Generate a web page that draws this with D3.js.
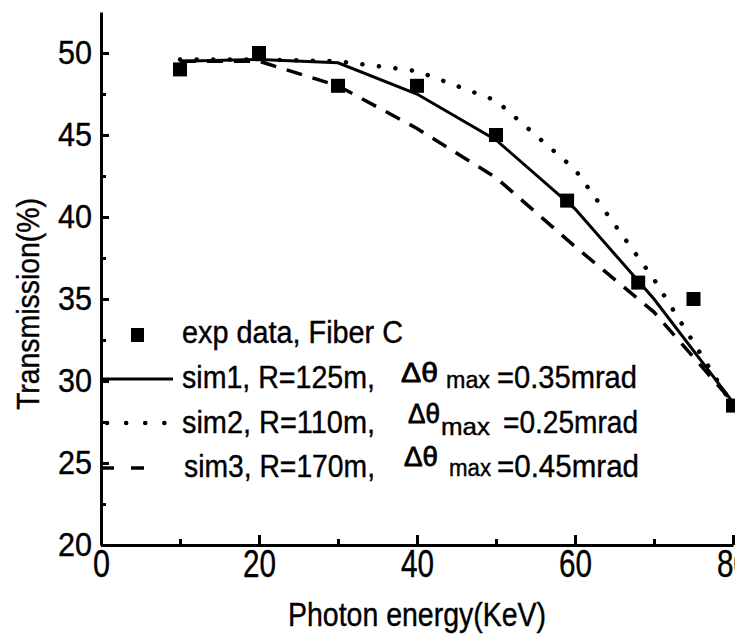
<!DOCTYPE html>
<html>
<head>
<meta charset="utf-8">
<script src="https://cdn.jsdelivr.net/npm/d3@7"></script>
<style>
    body { margin: 0; background: #fff; }
    svg { display: block; }
    .narrow { font-family: "Liberation Sans", Arial, sans-serif; fill: #000; stroke: #000; stroke-width: 0.4px; }
    .axis path, .axis line { stroke: #000; }
</style>
</head>
<body>
<div id="chart"></div>
<script>
"use strict";

// Experimental points (exp data, Fiber C).
const expEnergy = [10, 20, 30, 40, 50, 59, 68, 75, 80];
const expTrans = [49, 50, 48, 48, 45, 41, 36, 35, 28.5];

// Simulated curves, all sampled on the same energies.
const simEnergy = [10, 20, 30, 40, 50, 60, 70, 80];
const sim1Trans = [49.5, 49.6, 49.4, 47.5, 44.7, 40.5, 35.0, 28.7];
const sim2Trans = [49.6, 49.6, 49.5, 48.9, 47.1, 42.9, 36.2, 28.5];
const sim3Trans = [49.5, 49.5, 48.0, 45.4, 42.4, 38.2, 34.2, 28.7];

// Axis ticks.
const xTicks = [0, 20, 40, 60, 80];
const xMinorTicks = [10, 30, 50, 70];
const yTicks = [20, 25, 30, 35, 40, 45, 50];
const yMinorTicks = [22.5, 27.5, 32.5, 37.5, 42.5, 47.5];

// Legend text.
const legendNames = ["exp data, Fiber C", "sim1, R=125m,", "sim2, R=110m,", "sim3, R=170m,"];
const legendValues = ["", "=0.35mrad", "=0.25mrad", "=0.45mrad"];

const width = 735, height = 639;

// The original lettering is a condensed face, so squeeze text to a measured width.
function squeeze(sel, len) {
    sel.attr("textLength", len).attr("lengthAdjust", "spacingAndGlyphs");
}

let svg = d3.select("#chart").append("svg")
    .attr("width", width)
    .attr("height", height);

let x = d3.scaleLinear().domain([0, 80]).range([101, 733]);
let y = d3.scaleLinear().domain([20, 52.5]).range([545, 12]);

// Simulation lines first so the squares sit on top.
let line = d3.line()
    .x(function(d) { return x(d[0]); })
    .y(function(d) { return y(d[1]); });

let sims = [
    {vals: sim2Trans, dash: "0.1 16.5", width: 4.5, cap: "round"},
    {vals: sim3Trans, dash: "16 11", width: 3.5, cap: "butt"},
    {vals: sim1Trans, dash: null, width: 3, cap: "butt"}
];

sims.forEach(function(s) {
    svg.append("path")
        .datum(d3.zip(simEnergy, s.vals))
        .attr("fill", "none")
        .attr("stroke", "#000")
        .attr("stroke-width", s.width)
        .attr("stroke-linecap", s.cap)
        .attr("stroke-dasharray", s.dash)
        .attr("d", line);
});

// Experimental squares.
const sq = 14;
svg.append("g").selectAll("rect")
    .data(d3.zip(expEnergy, expTrans))
    .enter().append("rect")
    .attr("x", function(d) { return x(d[0]) - sq / 2; })
    .attr("y", function(d) { return y(d[1]) - sq / 2; })
    .attr("width", sq)
    .attr("height", sq)
    .attr("fill", "#000");

// Y axis: major ticks with labels, minor ticks without, all pointing inward.
let yAxis = svg.append("g")
    .attr("class", "axis")
    .attr("transform", "translate(" + x(0) + ",0)")
    .call(d3.axisLeft(y).tickValues(yTicks).tickSizeInner(-8).tickSizeOuter(0).tickPadding(9));
svg.append("g")
    .attr("class", "axis")
    .attr("transform", "translate(" + x(0) + ",0)")
    .call(d3.axisLeft(y).tickValues(yMinorTicks).tickSizeInner(-5).tickSizeOuter(0).tickFormat(""))
    .select(".domain").remove();

// X axis, same idea.
let xAxis = svg.append("g")
    .attr("class", "axis")
    .attr("transform", "translate(0," + y(20) + ")")
    .call(d3.axisBottom(x).tickValues(xTicks).tickSizeInner(-10).tickSizeOuter(0).tickPadding(5));
svg.append("g")
    .attr("class", "axis")
    .attr("transform", "translate(0," + y(20) + ")")
    .call(d3.axisBottom(x).tickValues(xMinorTicks).tickSizeInner(-6).tickSizeOuter(0).tickFormat(""))
    .select(".domain").remove();

svg.selectAll(".axis .domain").attr("stroke-width", 3);
svg.selectAll(".axis .tick line").attr("stroke-width", 3);

yAxis.selectAll("text")
    .attr("class", "narrow")
    .style("font-size", "33px")
    .call(squeeze, 34);
xAxis.selectAll("text")
    .attr("class", "narrow")
    .style("font-size", "38px")
    .each(function(d) { if (d > 0) squeeze(d3.select(this), 33); else squeeze(d3.select(this), 17); });

// Axis titles.
svg.append("text")
    .attr("class", "narrow")
    .attr("x", 417)
    .attr("y", 626)
    .style("text-anchor", "middle")
    .style("font-size", "33px")
    .text("Photon energy(KeV)")
    .call(squeeze, 258);

svg.append("text")
    .attr("class", "narrow")
    .attr("transform", "translate(39,304) rotate(-90)")
    .style("text-anchor", "middle")
    .style("font-size", "32px")
    .text("Transmission(%)")
    .call(squeeze, 212);

// Legend.
const rowY = [335, 379, 423, 468];
const textBase = [343, 388, 433, 477];

svg.append("rect")
    .attr("x", 131).attr("y", rowY[0] - 7)
    .attr("width", 13).attr("height", 14)
    .attr("fill", "#000");

svg.append("line")
    .attr("x1", 101).attr("x2", 173)
    .attr("y1", rowY[1]).attr("y2", rowY[1])
    .attr("stroke", "#000").attr("stroke-width", 3);

svg.append("line")
    .attr("x1", 107).attr("x2", 168)
    .attr("y1", rowY[2]).attr("y2", rowY[2])
    .attr("stroke", "#000").attr("stroke-width", 4.5)
    .attr("stroke-linecap", "round")
    .attr("stroke-dasharray", "0.1 19");

svg.append("line")
    .attr("x1", 101).attr("x2", 147)
    .attr("y1", rowY[3]).attr("y2", rowY[3])
    .attr("stroke", "#000").attr("stroke-width", 3.5)
    .attr("stroke-dasharray", "13 17");

// Names and the delta-theta parts, placed one piece at a time.
const nameX = [182, 182, 182, 184];
const nameW = [221, 193, 193, 191];
const thetaX = [0, 401, 408, 404];
const thetaW = [0, 37, 32, 34];
const thetaBase = [0, 382, 423, 466];
const maxX = [0, 446, 441, 449];
const maxW = [0, 44, 49, 42];
const maxBase = [0, 388, 435, 476];
const valX = [0, 497, 503, 497];
const valW = [0, 140, 135, 142];

for (let i = 0; i < legendNames.length; i++) {
    let g = svg.append("g").attr("class", "narrow");
    g.append("text")
        .attr("x", nameX[i]).attr("y", textBase[i])
        .style("font-size", "31px")
        .text(legendNames[i])
        .call(squeeze, nameW[i]);
    if (i == 0) continue;
    g.append("text")
        .attr("x", thetaX[i]).attr("y", thetaBase[i])
        .style("font-size", "28px")
        .style("stroke-width", "0.8px")
        .text("\u0394\u03b8")
        .call(squeeze, thetaW[i]);
    g.append("text")
        .attr("x", maxX[i]).attr("y", maxBase[i])
        .style("font-size", "23px")
        .text("max")
        .call(squeeze, maxW[i]);
    g.append("text")
        .attr("x", valX[i]).attr("y", textBase[i])
        .style("font-size", "31px")
        .text(legendValues[i])
        .call(squeeze, valW[i]);
}
</script>
</body>
</html>
